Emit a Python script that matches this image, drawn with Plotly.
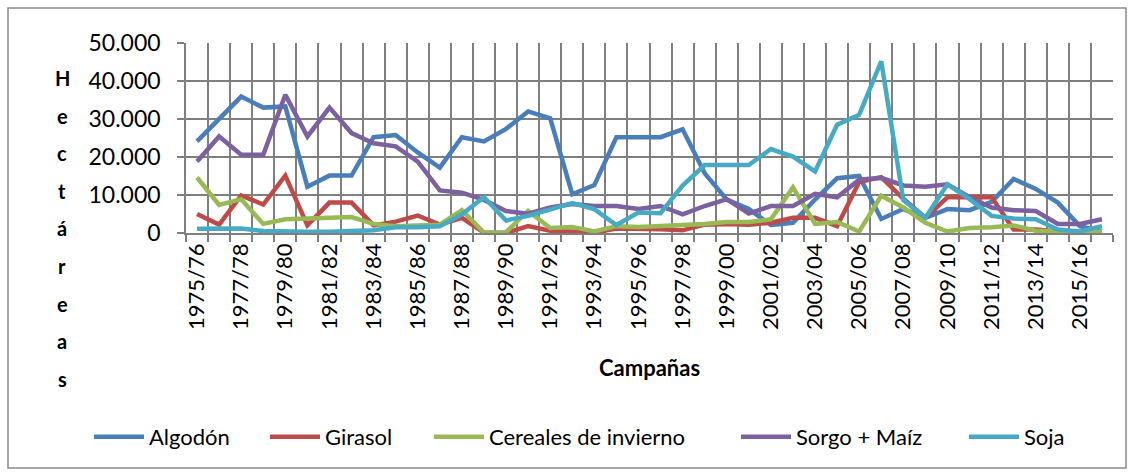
import plotly.graph_objects as go

campaigns = [f"{y}/{str(y + 1)[-2:]}" for y in range(1975, 2017)]

algodon = [24100, 30200, 35900, 33000, 33300, 12200, 15100, 15100, 25200, 25800,
           21200, 17200, 25200, 24100, 27400, 32000, 30200, 10200, 12600, 25200,
           25200, 25200, 27300, 15700, 8800, 6300, 2100, 2700, 8800, 14400,
           15000, 3700, 6300, 4000, 6300, 6000, 8200, 14200, 11600, 8000,
           1800, 400]
girasol = [5000, 2200, 9900, 7500, 15100, 2000, 8000, 8000, 2000, 3000,
           4600, 2200, 4000, 100, 0, 1800, 600, 400, 100, 1200,
           1200, 1000, 700, 2200, 2400, 2200, 2700, 4000, 4000, 1800,
           13400, 14700, 9000, 4000, 9400, 9400, 9400, 900, 900, 400,
           100, 100]
cereales = [14600, 7400, 8900, 2400, 3600, 3800, 4000, 4200, 2400, 1800,
            2000, 2200, 6000, 100, 200, 5800, 1300, 1600, 400, 1800,
            1600, 1800, 2100, 2400, 2900, 2900, 3600, 12000, 2400, 2900,
            400, 9800, 6700, 2700, 400, 1300, 1500, 2000, 600, 400,
            400, 400]
sorgo_maiz = [18800, 25400, 20600, 20600, 36400, 25400, 33000, 26300, 23600, 22800,
              18800, 11200, 10600, 8700, 5800, 5100, 6700, 7600, 7100, 7100,
              6300, 7100, 4900, 7100, 8900, 5100, 7100, 7100, 10300, 9400,
              14000, 14500, 12500, 12200, 12800, 9400, 6700, 6000, 5800, 2400,
              2400, 3600]
soja = [1100, 1200, 1200, 500, 300, 300, 300, 500, 700, 1500,
        1500, 1800, 4900, 9400, 3300, 4500, 6300, 7900, 6300, 2100,
        5400, 5200, 12500, 17900, 17900, 17900, 22100, 20100, 16200, 28500,
        31100, 45200, 8700, 4000, 12800, 8900, 4500, 3800, 3600, 900,
        400, 1800]

series = [
    ("Algodón", algodon, "#4A7EBB"),
    ("Girasol", girasol, "#BE4B48"),
    ("Cereales de invierno", cereales, "#98B954"),
    ("Sorgo + Maíz", sorgo_maiz, "#7D60A0"),
    ("Soja", soja, "#46AAC5"),
]

FONT = "Lato"
GRID = "#7f7f7f"

W, H = 1131, 473
L, R, T, B = 186, 18, 43, 240
pw, ph = W - L - R, H - T - B


def px_x(x):
    return (x - L) / pw


def px_y(y):
    return (H - B - y) / ph


idx = list(range(len(campaigns)))
legend_left = [89, 265, 429, 736, 964]

fig = go.Figure()
legends = {}
for k, (name, vals, color) in enumerate(series):
    lname = "legend" if k == 0 else f"legend{k + 1}"
    fig.add_trace(go.Scatter(x=idx, y=vals, name=name, mode="lines",
                             legend=lname,
                             line=dict(color=color, width=4.5)))
    legends[lname] = dict(orientation="h", x=px_x(legend_left[k]), y=px_y(437),
                          xanchor="left", yanchor="middle",
                          font=dict(family=FONT, size=22, color="#000000"),
                          bgcolor="rgba(0,0,0,0)", itemwidth=50)

annotations = []
for k, ch in enumerate("Hectáreas"):
    annotations.append(dict(text=ch, xref="paper", yref="paper",
                            x=px_x(62), y=px_y(78 + 37.6 * k),
                            xanchor="center", yanchor="middle", showarrow=False,
                            font=dict(family=FONT, size=20, color="#000000", weight="bold")))
annotations.append(dict(text="Campañas", xref="paper", yref="paper",
                        x=0.5, y=px_y(367), xanchor="center", yanchor="middle",
                        showarrow=False,
                        font=dict(family=FONT, size=22, color="#000000", weight="bold")))

fig.update_layout(
    width=W, height=H,
    margin=dict(l=L, r=R, t=T, b=B),
    paper_bgcolor="white", plot_bgcolor="white",
    separators=",.",
    font=dict(family=FONT, size=22, color="#000000"),
    showlegend=True,
    annotations=annotations,
    shapes=[dict(type="rect", xref="paper", yref="paper",
                 x0=px_x(8), x1=px_x(1126), y0=px_y(468), y1=px_y(8),
                 line=dict(color="#8a8a8a", width=1.5), layer="below")],
    **legends,
)

fig.update_xaxes(
    range=[-0.5, len(campaigns) - 0.5],
    tickmode="array", tickvals=idx[::2], ticktext=campaigns[::2],
    tickangle=-90, ticks="", showgrid=False,
    showline=True, linecolor=GRID, linewidth=1.5,
    tickfont=dict(family=FONT, size=22),
    minor=dict(tick0=-0.5, dtick=1, ticks="outside", ticklen=7,
               tickcolor=GRID, tickwidth=1.5,
               showgrid=True, gridcolor=GRID, gridwidth=1.5),
    zeroline=False,
)
fig.update_yaxes(
    range=[0, 50000], tickmode="linear", tick0=0, dtick=10000,
    tickformat=",.0f", ticks="outside", ticklen=7, tickcolor=GRID, tickwidth=1.5,
    ticklabelstandoff=12,
    showgrid=True, gridcolor=GRID, gridwidth=1.5,
    showline=True, linecolor=GRID, linewidth=1.5,
    tickfont=dict(family=FONT, size=23),
    zeroline=False,
)

fig.write_html("out.html", config={"displayModeBar": False},
               post_script="document.body.style.margin='0px';")
